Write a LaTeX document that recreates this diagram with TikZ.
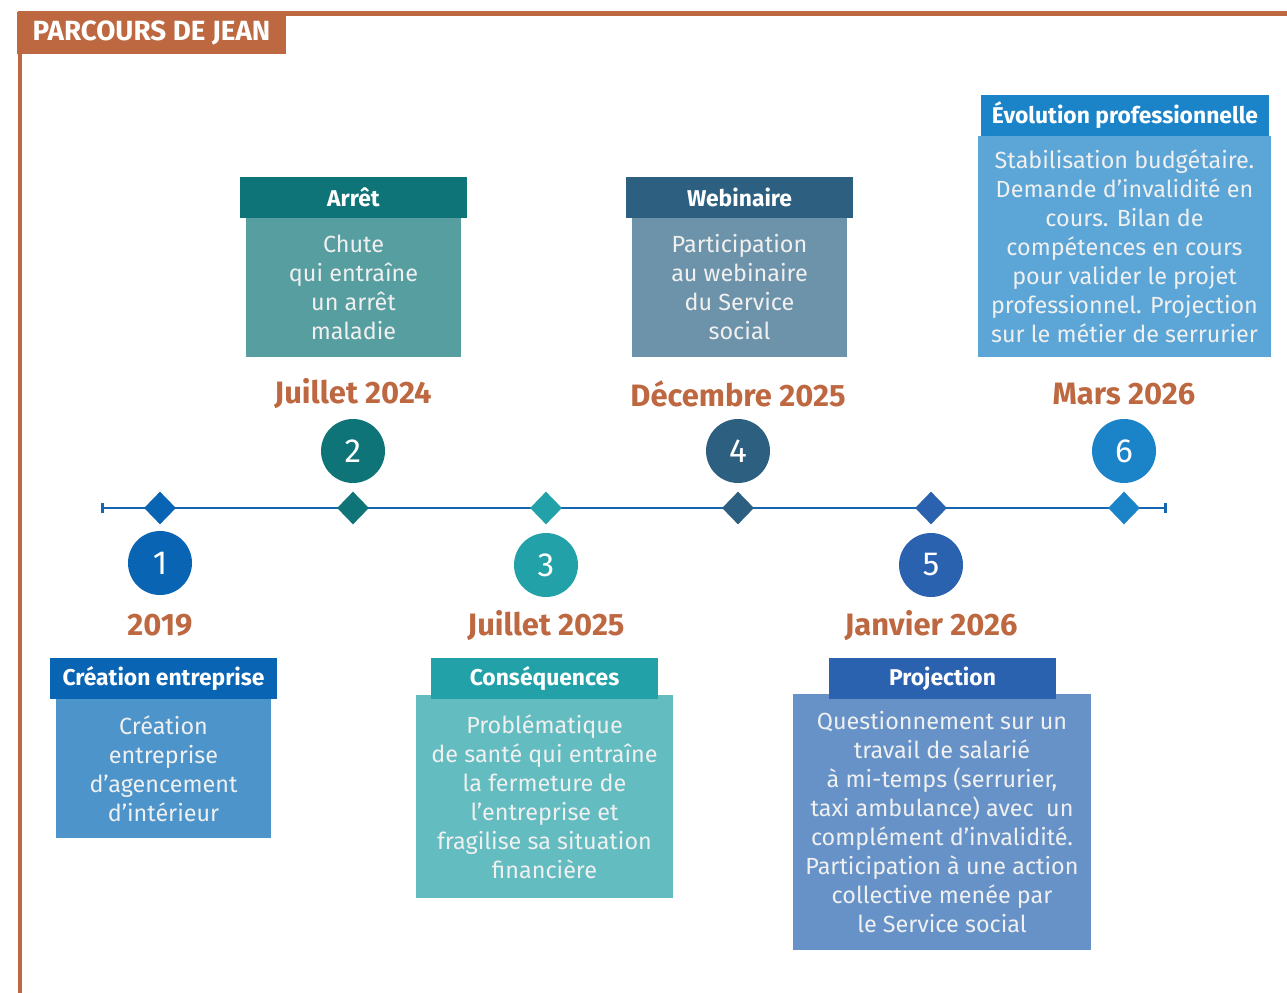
\documentclass[tikz,border=0pt]{standalone}
\usepackage{fontspec}
\setmainfont{Fira Sans}
\usepackage{tikz}
\usetikzlibrary{shapes.geometric,arrows.meta}

\definecolor{brique}{HTML}{BD6840}
\definecolor{trait}{HTML}{1565B0}
\definecolor{evtA}{HTML}{0A64B4}
\definecolor{evtB}{HTML}{0F7478}
\definecolor{evtC}{HTML}{22A2A8}
\definecolor{evtD}{HTML}{2D6080}
\definecolor{evtE}{HTML}{2A62B0}
\definecolor{evtF}{HTML}{1B84C8}
\definecolor{fondA}{HTML}{4D94CB}
\definecolor{fondB}{HTML}{579EA0}
\definecolor{fondC}{HTML}{62BCC0}
\definecolor{fondD}{HTML}{6D93AA}
\definecolor{fondE}{HTML}{6692C8}
\definecolor{fondF}{HTML}{5CA5D7}

\begin{document}
\begin{tikzpicture}[x={(0.02cm,0)},y={(0,-0.02cm)},
    jalon/.style={diamond,inner sep=0pt,minimum width=0.64cm,minimum height=0.66cm},
    pastille/.style={circle,inner sep=0pt,minimum size=1.28cm,text=white,
        font=\fontsize{19}{19}\selectfont},
    datelbl/.style={text=brique,font=\bfseries\fontsize{17.6}{17.6}\selectfont},
    entete/.style={inner sep=0pt,minimum width=4.54cm,minimum height=0.82cm,
        text=white,font=\bfseries\fontsize{13}{13}\selectfont},
    corps/.style={inner sep=0pt,align=center,text=white!94!black,
        font=\fontsize{13.3}{16.5}\selectfont}]
    \useasboundingbox (0,0) rectangle (1287,993);
		% FRAME AND TITLE
		\draw [brique,line width=2.6pt] (20,993) -- (20,13.5) -- (1287,13.5);
		\node [fill=brique,inner sep=0pt,minimum width=5.38cm,minimum height=0.84cm,
		    text=white,font=\bfseries\fontsize{15.8}{15.8}\selectfont] (titre) at (151.5,33) {PARCOURS DE JEAN};
		% TIMELINE
		\coordinate (debut) at (101,508);
		\coordinate (fin) at (1167,508);
		\draw [{Bar[width=0.2cm]}-{Bar[width=0.2cm]},trait,line width=1.6pt] (debut) -- (fin);
		\foreach \n/\x/\yc/\yd/\col/\date in {1/160/563/625/evtA/2019,2/353/451/394/evtB/Juillet 2024,
		    3/546/565/626/evtC/Juillet 2025,4/738/451/394/evtD/Décembre 2025,
		    5/931/565/626/evtE/Janvier 2026,6/1124/451/394/evtF/Mars 2026}{
		    \node [jalon,fill=\col] (j\n) at (\x,508) {};
		    \node [pastille,fill=\col] (p\n) at (\x,\yc) {\n};
		    \node [datelbl] (d\n) at (\x,\yd) {\date};
		}
		% BOXES
		\node [corps,fill=fondA,minimum width=4.3cm,minimum height=2.78cm] (creation) at (163.5,768.5)
		    {Création\\entreprise\\d’agencement\\d’intérieur};
		\node [entete,fill=evtA] (creation-titre) at (163.5,678.5) {Création entreprise};
		\node [corps,fill=fondB,minimum width=4.3cm,minimum height=2.78cm] (arret) at (353.5,287.5)
		    {Chute\\qui entraîne\\un arrêt\\maladie};
		\node [entete,fill=evtB] (arret-titre) at (353.5,197.5) {Arrêt};
		\node [corps,fill=fondC,minimum width=5.14cm,minimum height=4.06cm] (consequences) at (544.5,796.5)
		    {Problématique\\de santé qui entraîne\\la fermeture de\\l’entreprise et\\fragilise sa situation\\financière};
		\node [entete,fill=evtC] (consequences-titre) at (544.5,678.5) {Conséquences};
		\node [corps,fill=fondD,minimum width=4.3cm,minimum height=2.78cm] (webinaire) at (739.5,287.5)
		    {Participation\\au webinaire\\du Service\\social};
		\node [entete,fill=evtD] (webinaire-titre) at (739.5,197.5) {Webinaire};
		\node [corps,fill=fondE,minimum width=5.96cm,minimum height=5.12cm] (projection) at (942,822)
		    {Questionnement sur un\\travail de salarié\\à mi-temps (serrurier,\\taxi ambulance) avec~ un\\complément d’invalidité.\\Participation à une action\\collective menée par\\le Service social};
		\node [entete,fill=evtE] (projection-titre) at (942.5,678.5) {Projection};
		\node [corps,fill=fondF,minimum width=5.86cm,minimum height=4.42cm] (evolution) at (1124.5,246.5)
		    {Stabilisation budgétaire.\\Demande d’invalidité en\\cours. Bilan de\\compétences en cours\\pour valider le projet\\professionnel. Projection\\sur le métier de serrurier};
		\node [entete,fill=evtF,minimum width=5.76cm] (evolution-titre) at (1125,115.5) {Évolution professionnelle};
		\end{tikzpicture}
\end{document}
